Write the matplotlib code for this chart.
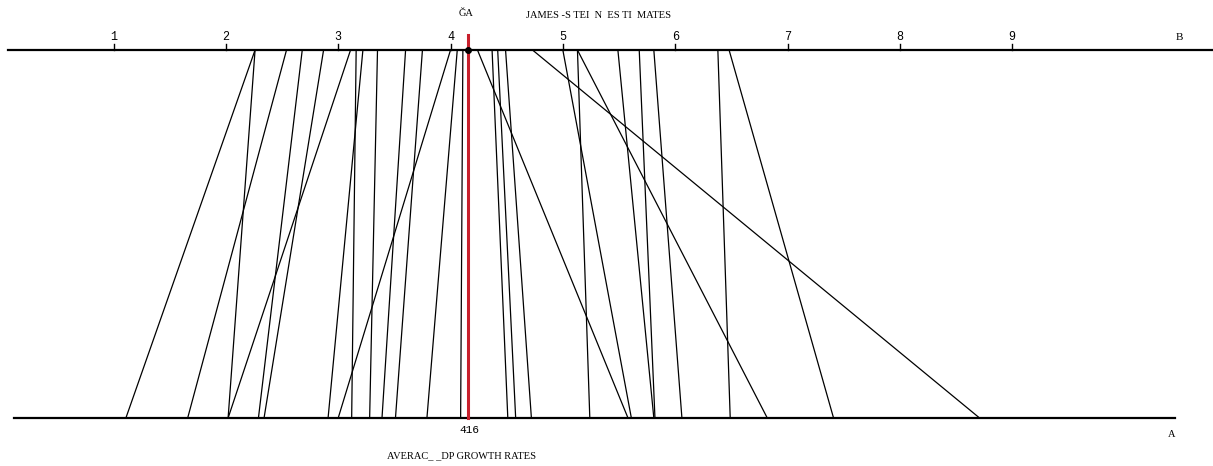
import numpy as np
import matplotlib
matplotlib.use('Agg')
import matplotlib.pyplot as plt

# observed averages (bottom axis) and James-Stein estimates (top axis)
observed = [1.11, 2.02, 1.66, 2.29, 2.34, 2.02, 3.12, 2.91, 3.28, 3.39,
            3.51, 3.00, 3.79, 4.09, 5.58, 4.51, 4.58, 4.72, 8.71, 5.61,
            5.24, 6.82, 5.81, 5.82, 6.06, 6.49, 7.41]
js_estimates = [2.26, 2.26, 2.54, 2.68, 2.87, 3.11, 3.16, 3.22, 3.35, 3.60,
                3.75, 4.00, 4.06, 4.11, 4.24, 4.37, 4.42, 4.49, 4.73, 5.00,
                5.13, 5.13, 5.49, 5.68, 5.81, 6.38, 6.48]
grand_mean = 4.16
tick_values = [1, 2, 3, 4, 5, 6, 7, 8, 9]

fig = plt.figure(figsize=(12.13, 4.66), dpi=100)
ax = fig.add_axes([0, 0, 1, 1])
ax.set_xlim(-0.0107, 10.788)
ax.set_ylim(-0.1304, 1.1359)
ax.axis('off')

# connecting lines
for b, t in zip(observed, js_estimates):
    ax.plot([b, t], [0, 1], color='black', lw=0.9)

# the two scales
ax.plot([0.06, 10.79], [1, 1], color='black', lw=1.6)
ax.plot([0.11, 10.45], [0, 0], color='black', lw=1.6)
for v in tick_values:
    ax.plot([v, v], [1, 1.016], color='black', lw=1)
    ax.text(v, 1.035, str(v), ha='center', va='center',
            family='Liberation Mono', fontsize=8.5)
ax.text(10.49, 1.035, 'B', ha='center', va='center',
        family='Liberation Serif', fontsize=8)

# grand mean
ax.plot([grand_mean, grand_mean], [0, 1.041], color='#c8202c', lw=2.2)
ax.plot([4.16], [1.0], marker='o', color='black', ms=4)

serif = 'Liberation Serif'
ax.text(4.138, 1.10, 'ĞA', ha='center', va='center', family=serif, fontsize=7.5)
ax.text(4.672, 1.095, 'JAMES -S TEI  N  ES TI  MATES', ha='left', va='center',
        family=serif, fontsize=7.5)
ax.text(4.17, -0.033, '416', ha='center', va='center',
        family='Liberation Mono', fontsize=8)
ax.text(4.10, -0.103, 'AVERAC_ _DP GROWTH RATES', ha='center', va='center',
        family=serif, fontsize=7.5)
ax.text(10.42, -0.044, 'A', ha='center', va='center', family=serif, fontsize=7.5)

fig.savefig('out.png', dpi=100)
